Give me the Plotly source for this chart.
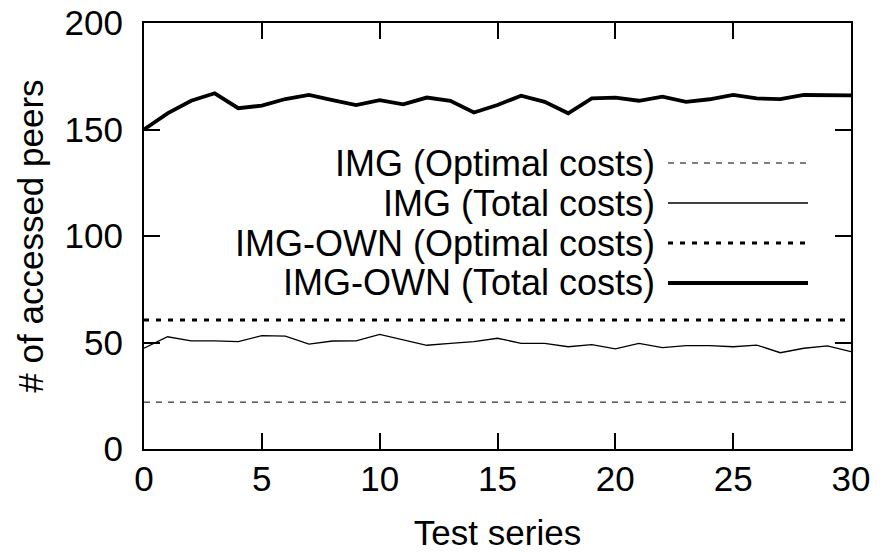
import plotly.graph_objects as go

x_series = list(range(0, 31))
img_own_total = [150, 157.6, 163.5, 167, 160, 161.2, 164.3, 166.2, 163.8, 161.5,
                 163.8, 161.8, 165, 163.5, 158, 161.5, 165.9, 163, 157.6, 164.6,
                 165, 163.5, 165.4, 163, 164.2, 166.2, 164.6, 164.3, 166.2, 166, 166]
img_total = [47.3, 52.7, 50.8, 50.8, 50.4, 53.2, 53, 49.2, 50.7, 50.8,
             53.8, 51.2, 48.7, 49.6, 50.4, 52, 49.6, 49.6, 48, 49,
             47, 49.6, 47.6, 48.5, 48.5, 48, 48.8, 45.2, 47.3, 48.4, 45.7]
img_optimal = 22
img_own_optimal = 60.6

legend_labels = ["IMG (Optimal costs)", "IMG (Total costs)",
                 "IMG-OWN (Optimal costs)", "IMG-OWN (Total costs)"]

FONT = "Liberation Sans, Arial, sans-serif"

styles = [
    dict(color="black", width=1, dash="6px,6px"),
    dict(color="black", width=1.3),
    dict(color="black", width=3, dash="5px,7px"),
    dict(color="black", width=3.8),
]

fig = go.Figure()
fig.add_trace(go.Scatter(x=[x_series[0], x_series[-1]], y=[img_optimal, img_optimal],
                         mode="lines", line=styles[0], name=legend_labels[0]))
fig.add_trace(go.Scatter(x=x_series, y=img_total, mode="lines", line=styles[1],
                         name=legend_labels[1]))
fig.add_trace(go.Scatter(x=[x_series[0], x_series[-1]], y=[img_own_optimal, img_own_optimal],
                         mode="lines", line=styles[2], name=legend_labels[2]))
fig.add_trace(go.Scatter(x=x_series, y=img_own_total, mode="lines", line=styles[3],
                         name=legend_labels[3]))

# gnuplot-style legend: right-aligned text with sample line on the right
L, R, T, B = 144, 34, 23, 103
W, H = 885 - L - R, 552 - T - B
row_y = [163, 203, 243, 283]
for lbl, py, st in zip(legend_labels, row_y, styles):
    yp = (H + T - py) / H
    fig.add_annotation(x=(657 - L) / W, y=yp, xref="paper", yref="paper",
                       text=lbl, showarrow=False, xanchor="right", yanchor="middle",
                       font=dict(family=FONT, size=36, color="black"))
    fig.add_shape(type="line", xref="paper", yref="paper",
                  x0=(668 - L) / W, x1=(808 - L) / W, y0=yp, y1=yp, line=st)

axis_common = dict(showgrid=False, zeroline=False, showline=True, linecolor="black",
                   linewidth=2, mirror="ticks", ticks="inside", ticklen=16,
                   tickwidth=2, tickcolor="black", automargin=False,
                   tickfont=dict(family=FONT, size=35, color="black"))

fig.update_xaxes(range=[0, 30], tickvals=[0, 5, 10, 15, 20, 25, 30],
                 title=dict(text="Test series", font=dict(family=FONT, size=35, color="black"),
                            standoff=28),
                 ticklabelstandoff=-2, **axis_common)
fig.update_yaxes(range=[0, 200], tickvals=[0, 50, 100, 150, 200],
                 title=dict(text="# of accessed peers", font=dict(family=FONT, size=35, color="black"),
                            standoff=10),
                 ticklabelstandoff=12, **axis_common)

fig.update_layout(width=885, height=552, margin=dict(l=L, r=R, t=T, b=B),
                  paper_bgcolor="white", plot_bgcolor="white", showlegend=False)

fig.write_html("out.html")
